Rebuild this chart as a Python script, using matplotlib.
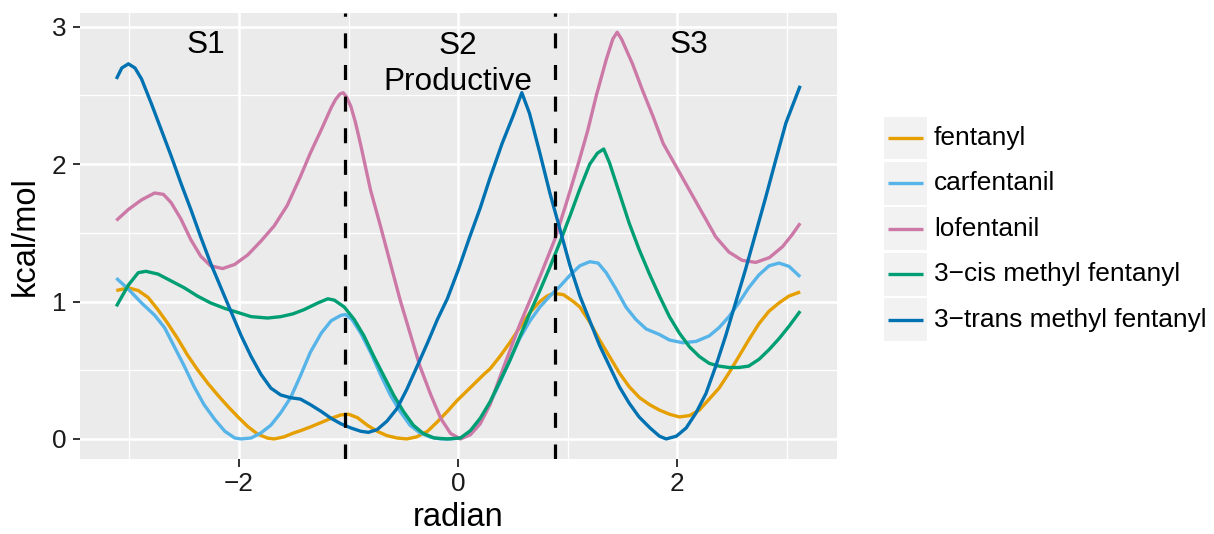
import matplotlib
matplotlib.use("Agg")
import matplotlib.pyplot as plt
from matplotlib.patches import Rectangle
from matplotlib.lines import Line2D
from matplotlib.ticker import FixedLocator

plt.rcParams['font.family'] = ['Liberation Sans', 'DejaVu Sans']

series_names = ["fentanyl", "carfentanil", "lofentanil",
                "3\u2212cis methyl fentanyl", "3\u2212trans methyl fentanyl"]
series_colors = ["#E69F00", "#56B4E9", "#CC79A7", "#009E73", "#0072B2"]

x_fentanyl = [-3.12, -3.01, -2.92, -2.83, -2.74, -2.65, -2.56, -2.47, -2.38, -2.28, -2.19, -2.10, -2.01,
              -1.92, -1.83, -1.74, -1.68, -1.59, -1.50, -1.44, -1.35, -1.25, -1.16, -1.07, -1.00, -0.92,
              -0.83, -0.74, -0.65, -0.56, -0.47, -0.38, -0.28, -0.19, -0.10, -0.01, 0.08, 0.17, 0.24,
              0.29, 0.38, 0.47, 0.56, 0.655, 0.745, 0.81, 0.87, 0.96, 1.05, 1.11, 1.20, 1.29, 1.38, 1.47,
              1.56, 1.655, 1.745, 1.836, 1.927, 2.018, 2.11, 2.20, 2.29, 2.38, 2.47, 2.56, 2.65, 2.745,
              2.836, 2.927, 3.018, 3.12]
y_fentanyl = [1.08, 1.10, 1.08, 1.03, 0.94, 0.84, 0.73, 0.61, 0.505, 0.40, 0.315, 0.235, 0.16,
              0.09, 0.035, 0.006, 0.0, 0.015, 0.044, 0.06, 0.087, 0.12, 0.15, 0.175, 0.18, 0.155,
              0.10, 0.056, 0.024, 0.007, 0.0, 0.015, 0.056, 0.125, 0.20, 0.28, 0.35, 0.42, 0.475,
              0.51, 0.60, 0.70, 0.81, 0.92, 1.00, 1.04, 1.06, 1.05, 1.00, 0.96, 0.85, 0.72, 0.60, 0.48,
              0.38, 0.30, 0.25, 0.21, 0.18, 0.16, 0.17, 0.21, 0.29, 0.37, 0.48, 0.60, 0.72, 0.84,
              0.93, 0.99, 1.04, 1.07]

x_carfentanil = [-3.12, -3.01, -2.89, -2.77, -2.68, -2.59, -2.50, -2.41, -2.32, -2.22, -2.13, -2.04, -1.98,
                 -1.89, -1.80, -1.71, -1.62, -1.53, -1.44, -1.35, -1.25, -1.16, -1.07, -1.03, -0.97, -0.89,
                 -0.80, -0.71, -0.62, -0.53, -0.44, -0.35, -0.25, -0.16, -0.07, 0.02, 0.11, 0.20, 0.29,
                 0.38, 0.47, 0.56, 0.655, 0.745, 0.836, 0.927, 1.018, 1.109, 1.20, 1.276, 1.35, 1.44, 1.53,
                 1.62, 1.715, 1.836, 1.927, 2.05, 2.17, 2.29, 2.38, 2.47, 2.56, 2.65, 2.745, 2.836, 2.927,
                 3.018, 3.12]
y_carfentanil = [1.17, 1.09, 0.99, 0.90, 0.81, 0.67, 0.53, 0.38, 0.25, 0.14, 0.056, 0.007, 0.0,
                 0.007, 0.044, 0.10, 0.19, 0.30, 0.46, 0.63, 0.77, 0.86, 0.90, 0.905, 0.87, 0.77,
                 0.63, 0.47, 0.32, 0.20, 0.10, 0.044, 0.012, 0.0, 0.0, 0.007, 0.04, 0.13, 0.26,
                 0.41, 0.57, 0.73, 0.86, 0.96, 1.04, 1.11, 1.19, 1.26, 1.29, 1.28, 1.21, 1.09, 0.96,
                 0.87, 0.80, 0.76, 0.72, 0.70, 0.71, 0.75, 0.81, 0.89, 0.99, 1.10, 1.195, 1.26, 1.28,
                 1.256, 1.18]

x_lofentanil = [-3.12, -3.01, -2.89, -2.77, -2.69, -2.62, -2.53, -2.44, -2.35, -2.26, -2.15, -2.04, -1.92,
                -1.80, -1.68, -1.56, -1.44, -1.35, -1.25, -1.16, -1.12, -1.08, -1.05, -1.02, -0.98, -0.94,
                -0.89, -0.80, -0.71, -0.62, -0.53, -0.44, -0.35, -0.25, -0.16, -0.07, 0.02, 0.11, 0.20,
                0.29, 0.38, 0.47, 0.56, 0.65, 0.745, 0.88, 0.98, 1.094, 1.18, 1.26, 1.35, 1.41, 1.45,
                1.49, 1.59, 1.68, 1.776, 1.87, 1.99, 2.11, 2.23, 2.35, 2.47, 2.59, 2.715, 2.84, 2.96,
                3.05, 3.12]
y_lofentanil = [1.59, 1.67, 1.74, 1.79, 1.78, 1.72, 1.60, 1.45, 1.33, 1.26, 1.24, 1.27, 1.34,
                1.44, 1.55, 1.70, 1.91, 2.08, 2.25, 2.41, 2.47, 2.51, 2.52, 2.49, 2.42, 2.31,
                2.14, 1.81, 1.55, 1.28, 1.01, 0.77, 0.53, 0.32, 0.15, 0.04, 0.0, 0.03, 0.11,
                0.25, 0.45, 0.64, 0.83, 1.00, 1.18, 1.45, 1.70, 2.00, 2.24, 2.50, 2.76, 2.91, 2.96,
                2.91, 2.73, 2.54, 2.35, 2.15, 1.98, 1.81, 1.64, 1.47, 1.36, 1.30, 1.285, 1.32, 1.40,
                1.49, 1.57]

x_cis = [-3.12, -3.01, -2.92, -2.85, -2.74, -2.62, -2.50, -2.38, -2.26, -2.13, -2.01, -1.89, -1.74,
         -1.62, -1.51, -1.41, -1.28, -1.19, -1.13, -1.04, -0.95, -0.86, -0.77, -0.68, -0.59, -0.50,
         -0.41, -0.32, -0.22, -0.10, 0.02, 0.11, 0.20, 0.29, 0.38, 0.47, 0.56, 0.65, 0.745, 0.836,
         0.927, 1.018, 1.11, 1.20, 1.27, 1.327, 1.38, 1.47, 1.56, 1.65, 1.745, 1.836, 1.927, 2.018,
         2.11, 2.20, 2.29, 2.38, 2.47, 2.56, 2.65, 2.745, 2.836, 2.927, 3.018, 3.12]
y_cis = [0.965, 1.12, 1.21, 1.22, 1.20, 1.15, 1.10, 1.04, 0.99, 0.95, 0.92, 0.89, 0.88,
         0.89, 0.91, 0.94, 0.99, 1.02, 1.01, 0.96, 0.87, 0.75, 0.60, 0.46, 0.32, 0.20,
         0.10, 0.04, 0.007, 0.0, 0.007, 0.06, 0.15, 0.27, 0.42, 0.57, 0.74, 0.91, 1.08, 1.25,
         1.43, 1.62, 1.82, 2.00, 2.08, 2.11, 2.01, 1.79, 1.57, 1.38, 1.20, 1.04, 0.89, 0.77,
         0.67, 0.60, 0.55, 0.53, 0.52, 0.52, 0.53, 0.58, 0.65, 0.73, 0.82, 0.93]

x_trans = [-3.12, -3.07, -3.01, -2.95, -2.89, -2.80, -2.71, -2.62, -2.53, -2.44, -2.35, -2.26, -2.16,
           -2.07, -1.98, -1.89, -1.80, -1.71, -1.62, -1.53, -1.44, -1.35, -1.25, -1.16, -1.07, -0.98,
           -0.89, -0.82, -0.74, -0.65, -0.56, -0.47, -0.38, -0.28, -0.19, -0.10, 0.0, 0.10, 0.20,
           0.29, 0.40, 0.50, 0.58, 0.65, 0.745, 0.836, 0.93, 1.02, 1.11, 1.20, 1.29, 1.38, 1.47,
           1.56, 1.65, 1.75, 1.836, 1.897, 1.99, 2.08, 2.17, 2.26, 2.35, 2.44, 2.53, 2.62, 2.715,
           2.806, 2.897, 2.99, 3.12]
y_trans = [2.62, 2.70, 2.73, 2.70, 2.62, 2.44, 2.25, 2.06, 1.86, 1.67, 1.47, 1.28, 1.09,
           0.92, 0.75, 0.60, 0.47, 0.37, 0.32, 0.30, 0.29, 0.25, 0.20, 0.15, 0.11, 0.08,
           0.056, 0.048, 0.068, 0.13, 0.22, 0.36, 0.52, 0.70, 0.87, 1.02, 1.23, 1.46, 1.68,
           1.90, 2.15, 2.35, 2.52, 2.37, 2.08, 1.79, 1.52, 1.26, 1.04, 0.86, 0.68, 0.53, 0.38,
           0.26, 0.16, 0.08, 0.02, 0.0, 0.02, 0.08, 0.19, 0.33, 0.53, 0.75, 0.99, 1.23, 1.50,
           1.76, 2.03, 2.30, 2.57]

series_x = [x_fentanyl, x_carfentanil, x_lofentanil, x_cis, x_trans]
series_y = [y_fentanyl, y_carfentanil, y_lofentanil, y_cis, y_trans]

state_bounds = [-1.034, 0.882]
state_labels = ["S1", "S2\nProductive", "S3"]
state_label_x = [-2.3, 0.0, 2.1]
state_label_y = [2.87, 2.73, 2.87]

W, H = 1214, 534
fig = plt.figure(figsize=(W / 100, H / 100), dpi=100)
left, right, top, bottom = 79.5, 837, 13, 459
ax = fig.add_axes([left / W, 1 - bottom / H, (right - left) / W, (bottom - top) / H])
ax.set_facecolor("#EBEBEB")
for s in ax.spines.values():
    s.set_visible(False)

ax.set_xlim(-3.456, 3.456)
ax.set_ylim(-0.146, 3.1)
ax.xaxis.set_major_locator(FixedLocator([-2, 0, 2]))
ax.xaxis.set_minor_locator(FixedLocator([-3, -1, 1, 3]))
ax.yaxis.set_major_locator(FixedLocator([0, 1, 2, 3]))
ax.yaxis.set_minor_locator(FixedLocator([0.5, 1.5, 2.5]))
ax.grid(which="major", color="white", linewidth=1.8)
ax.grid(which="minor", color="white", linewidth=0.9)
ax.set_axisbelow(True)
ax.tick_params(which="major", length=5.4, width=1.4, color="#333333",
               labelsize=18.8, labelcolor="#1a1a1a", pad=4)
ax.tick_params(which="minor", length=0)

for xs, ys, c in zip(series_x, series_y, series_colors):
    ax.plot(xs, ys, color=c, linewidth=2.4, solid_joinstyle="round",
            solid_capstyle="butt", zorder=3)

for b in state_bounds:
    ax.axvline(b, color="black", linewidth=2.3, linestyle=(0, (4.7, 5.2)), zorder=4)

for lx, ly, lab in zip(state_label_x, state_label_y, state_labels):
    ax.text(lx, ly, lab, ha="center", va="center", fontsize=22.7, color="black",
            linespacing=1.28, zorder=5)

ax.set_xlabel("radian", fontsize=23.5, labelpad=4)
ax.set_ylabel("kcal/mol", fontsize=23.5, labelpad=8)

# legend (ggplot style keys)
lg = fig.add_axes([0, 0, 1, 1], facecolor="none")
lg.set_xlim(0, W)
lg.set_ylim(H, 0)
lg.axis("off")
key_left, key_w, key_h, key_gap, key_top = 884, 42.5, 42.8, 2.6, 116.5
for i, (name, c) in enumerate(zip(series_names, series_colors)):
    y0 = key_top + i * (key_h + key_gap)
    lg.add_patch(Rectangle((key_left, y0), key_w, key_h, facecolor="#F2F2F2", edgecolor="none"))
    lg.add_line(Line2D([key_left + 3.5, key_left + key_w - 3.5], [y0 + key_h / 2] * 2,
                       color=c, linewidth=2.4, solid_capstyle="butt"))
    lg.text(key_left + key_w + 7.5, y0 + key_h / 2, name, ha="left", va="center",
            fontsize=18.9, color="black")

fig.savefig("out.png", dpi=100)
